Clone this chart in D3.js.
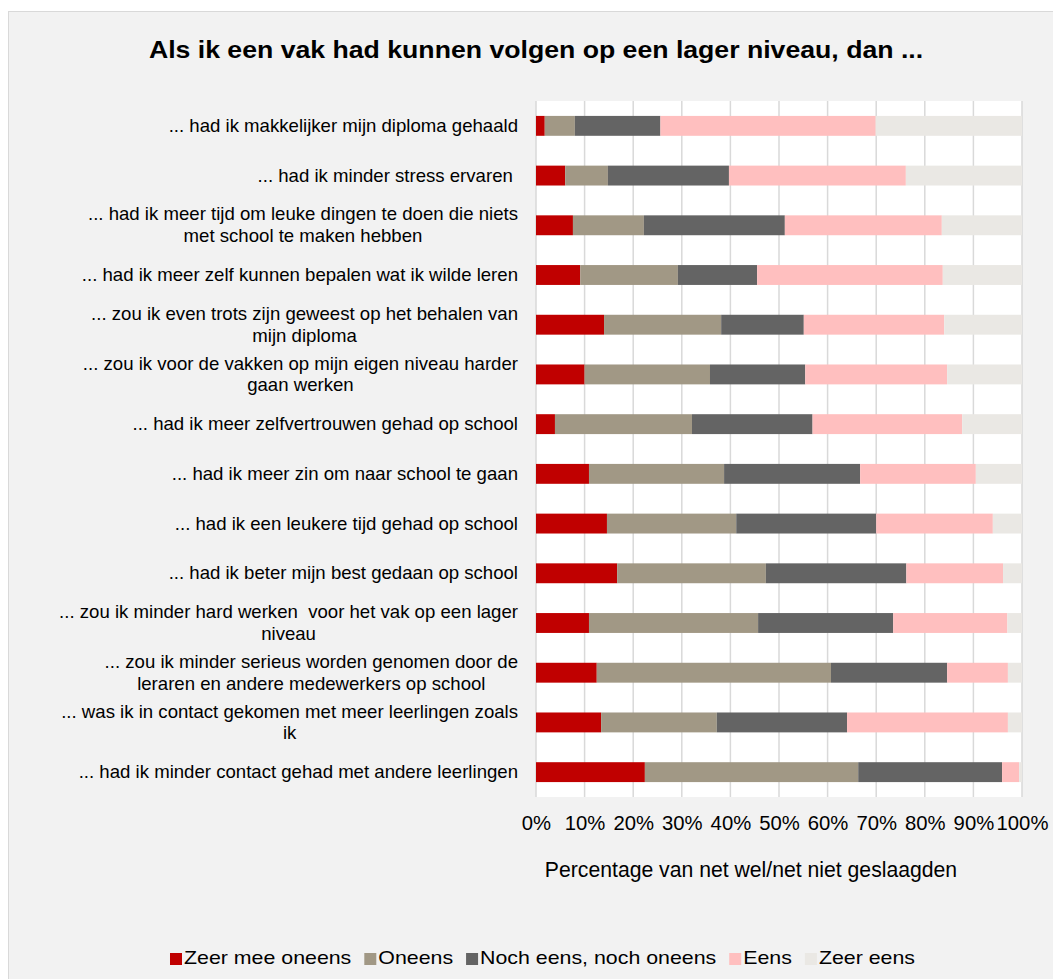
<!DOCTYPE html>
<html>
<head>
<meta charset="utf-8">
<script src="https://cdn.jsdelivr.net/npm/d3@7"></script>
<style>
  html, body { margin: 0; padding: 0; background: #ffffff; }
  svg { display: block; font-family: "Liberation Sans", Arial, sans-serif; }
  text { white-space: pre; }
</style>
</head>
<body>
<svg id="chart" width="1053" height="979"></svg>
<script>
const title = "Als ik een vak had kunnen volgen op een lager niveau, dan ...";
const xAxisTitle = "Percentage van net wel/net niet geslaagden";

const categories = [
  "... had ik makkelijker mijn diploma gehaald",
  "... had ik minder stress ervaren ",
  "... had ik meer tijd om leuke dingen te doen die niets\nmet school te maken hebben",
  "... had ik meer zelf kunnen bepalen wat ik wilde leren",
  "... zou ik even trots zijn geweest op het behalen van\nmijn diploma",
  "... zou ik voor de vakken op mijn eigen niveau harder\ngaan werken",
  "... had ik meer zelfvertrouwen gehad op school",
  "... had ik meer zin om naar school te gaan",
  "... had ik een leukere tijd gehad op school",
  "... had ik beter mijn best gedaan op school",
  "... zou ik minder hard werken  voor het vak op een lager\nniveau",
  "... zou ik minder serieus worden genomen door de\nleraren en andere medewerkers op school",
  "... was ik in contact gekomen met meer leerlingen zoals\nik",
  "... had ik minder contact gehad met andere leerlingen"
];

const seriesNames = ["Zeer mee oneens", "Oneens", "Noch eens, noch oneens", "Eens", "Zeer eens"];
const seriesColors = ["#C00000", "#A19885", "#646464", "#FFBFBF", "#EAE8E4"];

const zeerMeeOneens = [1.8, 6.0, 7.6, 9.1, 14.0, 10.0, 3.9, 10.9, 14.6, 16.7, 10.9, 12.5, 13.4, 22.4];
const oneens        = [6.2, 8.8, 14.6, 20.1, 24.1, 25.8, 28.2, 27.8, 26.6, 30.6, 34.8, 48.2, 23.8, 43.9];
const noch          = [17.6, 24.9, 29.0, 16.3, 17.0, 19.6, 24.8, 28.0, 28.8, 28.9, 27.8, 23.9, 26.8, 29.6];
const eens          = [44.3, 36.4, 32.3, 38.2, 28.9, 29.2, 30.8, 23.8, 24.0, 19.9, 23.5, 12.5, 33.1, 3.5];
const zeerEens      = [30.1, 23.9, 16.5, 16.3, 16.0, 15.4, 12.3, 9.5, 6.0, 3.9, 3.0, 2.9, 2.9, 0.6];

const xTicks = [0, 10, 20, 30, 40, 50, 60, 70, 80, 90, 100];

const seriesValues = [zeerMeeOneens, oneens, noch, eens, zeerEens];
const rows = categories.map((c, i) => {
  const r = { cat: c };
  seriesNames.forEach((s, j) => r[s] = seriesValues[j][i]);
  return r;
});

const svg = d3.select("#chart");

// chart area background
svg.append("rect").attr("x", 8.5).attr("y", 11.5).attr("width", 1100).attr("height", 1100)
  .attr("fill", "#F2F2F2").attr("stroke", "#D9D9D9").attr("stroke-width", 1);

const plot = { left: 536, right: 1022, top: 101, bottom: 797 };

const x = d3.scaleLinear().domain([0, 100]).range([plot.left, plot.right]);
const y = d3.scaleBand().domain(categories).range([plot.top, plot.bottom])
  .paddingInner(0.6).paddingOuter(0.3);

// plot background
svg.append("rect").attr("x", plot.left).attr("y", plot.top)
  .attr("width", plot.right - plot.left).attr("height", plot.bottom - plot.top)
  .attr("fill", "#FFFFFF");

// gridlines
svg.append("g").selectAll("line").data(xTicks).join("line")
  .attr("x1", d => x(d)).attr("x2", d => x(d))
  .attr("y1", plot.top).attr("y2", plot.bottom)
  .attr("stroke", "#D9D9D9").attr("stroke-width", 1.5);

// stacked bars
const stack = d3.stack().keys(seriesNames)(rows);
svg.append("g").selectAll("g").data(stack).join("g")
  .attr("fill", (d, i) => seriesColors[i])
  .selectAll("rect").data(d => d).join("rect")
  .attr("x", d => x(d[0]))
  .attr("width", d => Math.max(0, x(d[1]) - x(d[0])))
  .attr("y", d => y(d.data.cat))
  .attr("height", y.bandwidth());

// x axis tick labels
const xAxis = d3.axisBottom(x).tickValues(xTicks).tickFormat(d => d + "%").tickSize(0).tickPadding(0);
const gx = svg.append("g").attr("transform", `translate(0,${plot.bottom})`).call(xAxis);
gx.select(".domain").remove();
gx.selectAll("text").attr("dy", null).attr("y", 33)
  .attr("font-size", "20.3px").attr("fill", "#000000")
  .attr("font-family", "Liberation Sans, Arial, sans-serif");

// category labels (right-aligned block, lines centered within block)
const labelRight = 518;
const lineH = 21.7;
const labelG = svg.append("g").attr("font-size", "18.6px").attr("fill", "#000000");
categories.forEach(cat => {
  const lines = cat.split("\n");
  const cy = y(cat) + y.bandwidth() / 2;
  const t = labelG.append("text").attr("text-anchor", "middle");
  const spans = lines.map((ln, k) => t.append("tspan").text(ln)
    .attr("y", cy + 6 + (k - (lines.length - 1) / 2) * lineH));
  let w = 0;
  spans.forEach(s => { w = Math.max(w, s.node().getComputedTextLength()); });
  spans.forEach(s => s.attr("x", labelRight - w / 2));
});

// title (reference text is rendered horizontally wider than its height suggests)
const titleT = svg.append("text").attr("text-anchor", "middle")
  .attr("font-size", "23px").attr("font-weight", "bold").attr("fill", "#000000")
  .text(title);
const tw0 = titleT.node().getComputedTextLength();
const tsx = 775 / tw0;
titleT.attr("transform", `translate(536,58) scale(${tsx},1)`);

// axis title
svg.append("text").attr("x", 751).attr("y", 877).attr("text-anchor", "middle")
  .attr("font-size", "21.2px").attr("fill", "#000000")
  .text(xAxisTitle);

// legend
const legendG = svg.append("g");
const sx = 1.22; // horizontal stretch of legend text seen in the reference
const items = legendG.selectAll("g").data(seriesNames).join("g");
items.append("rect").attr("width", 12).attr("height", 12).attr("y", -11)
  .attr("fill", (d, i) => seriesColors[i]);
items.append("text").attr("font-size", "17.5px").attr("fill", "#000000")
  .attr("transform", `scale(${sx},1)`)
  .attr("x", 14 / sx)
  .text(d => d);
let pos = 0;
const gap = 13;
const offs = [];
items.each(function () {
  const w = d3.select(this).select("text").node().getComputedTextLength() * sx;
  offs.push(pos);
  pos += 14 + w + gap;
});
const totalW = pos - gap;
const startX = 542.5 - totalW / 2;
items.attr("transform", (d, i) => `translate(${startX + offs[i]},964)`);
</script>
</body>
</html>
